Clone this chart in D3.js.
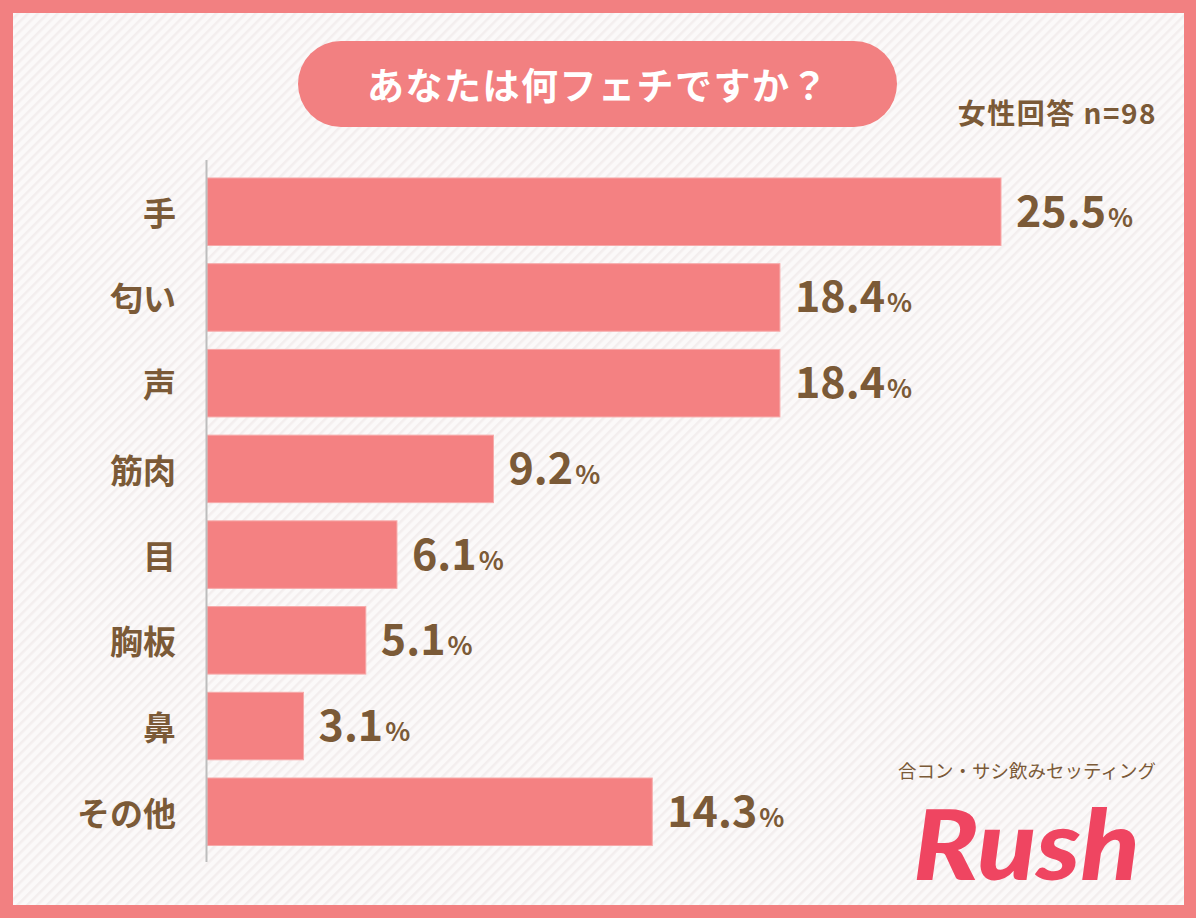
<!DOCTYPE html>
<html>
<head>
<meta charset="utf-8">
<script src="https://cdn.jsdelivr.net/npm/d3@7"></script>
<style>
html,body{margin:0;padding:0;background:#fff;}
svg{display:block;}
</style>
</head>
<body>
<svg id="chart" width="1196" height="918"></svg>
<script>
const categories = ["手","匂い","声","筋肉","目","胸板","鼻","その他"];
const values = [25.5, 18.4, 18.4, 9.2, 6.1, 5.1, 3.1, 14.3];
const title = "あなたは何フェチですか？";
const sampleLabel = "女性回答 n=98";
const brandSub = "合コン・サシ飲みセッティング";
const brandName = "Rush";

const W = 1196, H = 918;
const svg = d3.select("#chart");
const brown = "#7b5a37";
const barColor = "#f48182";
const borderColor = "#f28081";
const jp = "'Noto Sans CJK JP','Noto Sans',sans-serif";

const defs = svg.append("defs");
const pat = defs.append("pattern")
  .attr("id","stripes").attr("patternUnits","userSpaceOnUse")
  .attr("width",7).attr("height",7)
  .attr("patternTransform","rotate(45)");
pat.append("rect").attr("width",7).attr("height",7).attr("fill","#fbf9f9");
pat.append("rect").attr("width",2.5).attr("height",7).attr("fill","#f3eeee");

svg.append("rect").attr("width",W).attr("height",H).attr("fill",borderColor);
svg.append("rect").attr("x",13).attr("y",13).attr("width",1171).attr("height",892).attr("fill","url(#stripes)");

// title pill
svg.append("rect").attr("x",298).attr("y",41).attr("width",599).attr("height",86)
  .attr("rx",43).attr("fill",borderColor);
svg.append("text").attr("x",598).attr("y",84).attr("text-anchor","middle")
  .attr("dominant-baseline","central")
  .attr("font-family",jp).attr("font-weight",700).attr("font-size",37)
  .attr("letter-spacing",1.5)
  .attr("fill","#fff").text(title);

svg.append("text").attr("x",1157).attr("y",112).attr("text-anchor","end")
  .attr("dominant-baseline","central")
  .attr("font-family",jp).attr("font-weight",700).attr("font-size",28)
  .attr("letter-spacing",1.5)
  .attr("fill",brown).text(sampleLabel);

// scales
const x = d3.scaleLinear().domain([0,30]).range([207, 207 + 794/25.5*30]);
const y = d3.scaleBand().domain(categories).range([168.9, 854.6]).paddingInner(0.2125).paddingOuter(0.106);

const data = categories.map((c,i)=>({c, v: values[i]}));

svg.append("g").selectAll("rect").data(data).join("rect")
  .attr("x", x(0)).attr("y", d=>y(d.c))
  .attr("width", d=>x(d.v)-x(0)).attr("height", y.bandwidth())
  .attr("fill", barColor).attr("stroke","#f7a9a9").attr("stroke-width",1);

// axis line
svg.append("line").attr("x1",206.5).attr("x2",206.5).attr("y1",160).attr("y2",862)
  .attr("stroke","#bdbdbd").attr("stroke-width",2);

// category labels
svg.append("g").selectAll("text").data(data).join("text")
  .attr("x",176).attr("y",d=>y(d.c)+y.bandwidth()/2)
  .attr("text-anchor","end").attr("dominant-baseline","central")
  .attr("font-family",jp).attr("font-weight",700).attr("font-size",33)
  .attr("fill",brown).text(d=>d.c);

// value labels
const vl = svg.append("g").selectAll("text").data(data).join("text")
  .attr("x",d=>x(d.v)+15).attr("y",d=>y(d.c)+y.bandwidth()/2+15)
  .attr("font-family",jp).attr("font-weight",700)
  .attr("fill",brown);
vl.append("tspan").attr("font-size",43).text(d=>d.v.toFixed(1));
vl.append("tspan").attr("font-size",26).attr("dx",2).text("%");

// brand
svg.append("text").attr("x",1027).attr("y",770).attr("text-anchor","middle")
  .attr("dominant-baseline","central")
  .attr("font-family",jp).attr("font-weight",400).attr("font-size",18.5)
  .attr("fill",brown).text(brandSub);
svg.append("text").attr("x",913).attr("y",880)
  .attr("font-family","Lato, 'Open Sans', sans-serif").attr("font-weight",900)
  .attr("font-style","italic").attr("font-size",97)
  .attr("textLength",227).attr("lengthAdjust","spacingAndGlyphs")
  .attr("fill","#ef4561").text(brandName);
</script>
</body>
</html>
